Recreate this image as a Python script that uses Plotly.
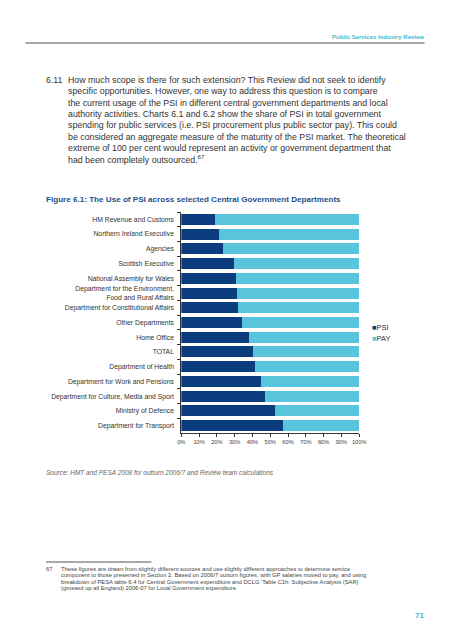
import plotly.graph_objects as go

categories = [
    "HM Revenue and Customs",
    "Northern Ireland Executive",
    "Agencies",
    "Scottish Executive",
    "National Assembly for Wales",
    "Department for the Environment,<br>Food and Rural Affairs",
    "Department for Constitutional Affairs",
    "Other Departments",
    "Home Office",
    "TOTAL",
    "Department of Health",
    "Department for Work and Pensions",
    "Department for Culture, Media and Sport",
    "Ministry of Defence",
    "Department for Transport",
]
psi = [18.8, 21.0, 23.2, 29.8, 30.9, 31.4, 32.0, 34.2, 38.0, 40.2, 41.3, 44.6, 47.3, 52.8, 57.2]
pay = [81.2, 79.0, 76.8, 70.2, 69.1, 68.6, 68.0, 65.8, 62.0, 59.8, 58.7, 55.4, 52.7, 47.2, 42.8]
x_ticks = [0, 10, 20, 30, 40, 50, 60, 70, 80, 90, 100]
x_tick_labels = ["0%", "10%", "20%", "30%", "40%", "50%", "60%", "70%", "80%", "90%", "100%"]

PSI_COL = "#0b3d7e"
PAY_COL = "#58c5dc"
W, H = 453, 640
FONT = "Liberation Sans, Arial, sans-serif"


def px(x):
    return x / W


def py(y):
    return 1 - y / H


fig = go.Figure()
fig.add_trace(go.Bar(y=categories, x=psi, orientation="h", name="PSI",
                     marker=dict(color=PSI_COL, line=dict(width=0))))
fig.add_trace(go.Bar(y=categories, x=pay, orientation="h", name="PAY",
                     marker=dict(color=PAY_COL, line=dict(width=0))))

fig.update_layout(
    width=W, height=H,
    margin=dict(l=0, r=0, t=0, b=0),
    paper_bgcolor="white", plot_bgcolor="white",
    barmode="stack", bargap=0.25,
    showlegend=False,
    font=dict(family=FONT, color="#333333"),
    xaxis=dict(domain=[px(181.7), px(364)], range=[0, 100],
               tickvals=x_ticks, ticktext=x_tick_labels,
               showgrid=False, zeroline=False,
               showline=True, linecolor="#333333", linewidth=1,
               ticks="outside", ticklen=3, tickcolor="#333333",
               tickfont=dict(size=5.7, color="#444444", family=FONT)),
    yaxis=dict(domain=[py(433), py(212)], type="category",
               autorange="reversed",
               showgrid=False, zeroline=False,
               showline=True, linecolor="#333333", linewidth=1,
               ticks="outside", ticklen=3, tickcolor="#333333",
               tickson="boundaries", ticklabelstandoff=5,
               tickfont=dict(size=6.8, color="#333333", family=FONT)),
)

anns = []


def text(x, y, s, size, color="#333333", anchor="left", bold=False, italic=False):
    if bold:
        s = "<b>" + s + "</b>"
    if italic:
        s = "<i>" + s + "</i>"
    anns.append(dict(x=px(x), y=py(y), xref="paper", yref="paper", text=s,
                     showarrow=False, xanchor=anchor, yanchor="middle",
                     borderpad=0,
                     font=dict(size=size, color=color, family=FONT)))


# header
text(431, 37, "Public Services Industry Review", 6.0, "#3bbcd0", anchor="right", bold=True)

# paragraph
para = [
    "How much scope is there for such extension? This Review did not seek to identify",
    "specific opportunities. However, one way to address this question is to compare",
    "the current usage of the PSI in different central government departments and local",
    "authority activities. Charts 6.1 and 6.2 show the share of PSI in total government",
    "spending for public services (i.e. PSI procurement plus public sector pay). This could",
    "be considered an aggregate measure of the maturity of the PSI market. The theoretical",
    "extreme of 100 per cent would represent an activity or government department that",
    "had been completely outsourced.<sup>67</sup>",
]
text(42.5, 80, "6.11", 8.8)
for i, line in enumerate(para):
    text(64.5, 80 + i * 11.3, line, 8.8)

# figure title
text(42.5, 199.5, "Figure 6.1: The Use of PSI across selected Central Government Departments",
     8.1, "#1d4f8c", bold=True)

# legend
text(376, 327, "<span style='color:%s'>■</span>PSI" % PSI_COL, 7.5, "#333333")
text(376, 338.5, "<span style='color:%s'>■</span>PAY" % PAY_COL, 7.5, "#333333")

# source
text(42.5, 472.5, "Source: HMT and PESA 2008 for outturn 2006/7 and Review team calculations",
     6.5, "#666666", italic=True)

# footnote
foot = [
    "These figures are drawn from slightly different sources and use slightly different approaches to determine service",
    "component to those presented in Section 2. Based on 2006/7 outturn figures, with GP salaries moved to pay, and using",
    "breakdown of PESA table 6.4 for Central Government expenditure and DCLG 'Table C1h: Subjective Analysis (SAR)",
    "(grossed up all England) 2006-07 for Local Government expenditure.",
]
text(42.5, 568.5, "67", 5.8, "#444444")
for i, line in enumerate(foot):
    text(57.5, 568.5 + i * 6.65, line, 5.8, "#444444")

# page number
text(431, 615.5, "71", 8, "#3bbcd0", anchor="right", bold=True)

fig.update_layout(annotations=anns)

fig.add_shape(type="line", xref="paper", yref="paper",
              x0=px(22), x1=px(431), y0=py(43), y1=py(43),
              line=dict(color="#888888", width=1.5))
fig.add_shape(type="line", xref="paper", yref="paper",
              x0=px(43), x1=px(151), y0=py(562), y1=py(562),
              line=dict(color="#555555", width=1))

fig.write_html("out.html",
               config={"displayModeBar": False},
               post_script="document.body.style.margin='0';document.body.style.overflow='hidden';")
